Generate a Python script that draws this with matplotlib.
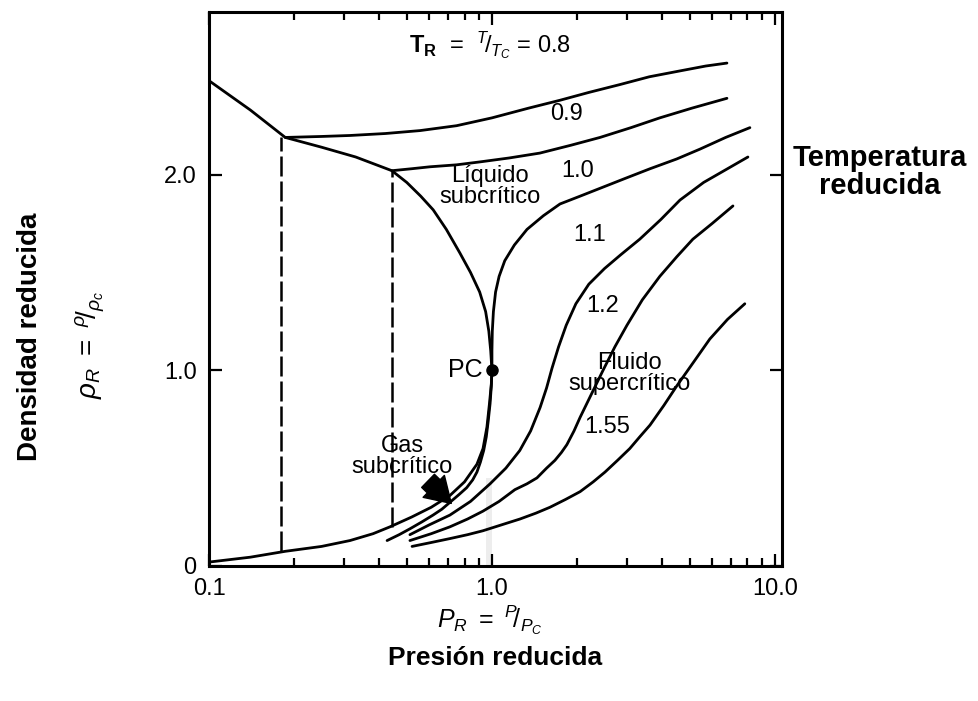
import matplotlib.pyplot as plt
from matplotlib.ticker import LogLocator, NullFormatter

plt.rcParams['font.family'] = ['Liberation Sans', 'DejaVu Sans']
plt.rcParams['mathtext.fontset'] = 'custom'
plt.rcParams['mathtext.rm'] = 'Liberation Sans'
plt.rcParams['mathtext.it'] = 'Liberation Sans:italic'
plt.rcParams['mathtext.bf'] = 'Liberation Sans:bold'

# saturation dome (reduced pressure, reduced density)
liq_p = [0.10, 0.14, 0.186, 0.25, 0.33, 0.443, 0.50, 0.56, 0.62, 0.69, 0.77,
         0.84, 0.905, 0.95, 0.975, 0.99, 1.0]
liq_rho = [2.48, 2.33, 2.19, 2.14, 2.09, 2.02, 1.96, 1.89, 1.82, 1.72, 1.60,
           1.50, 1.40, 1.30, 1.20, 1.10, 1.0]
gas_p = [0.10, 0.14, 0.186, 0.25, 0.315, 0.38, 0.436, 0.52, 0.61, 0.71, 0.80,
         0.885, 0.93, 0.96, 0.98, 0.995, 1.0]
gas_rho = [0.02, 0.045, 0.075, 0.10, 0.13, 0.165, 0.20, 0.25, 0.30, 0.36, 0.43,
           0.52, 0.60, 0.71, 0.83, 0.93, 1.0]

# subcritical isotherms, liquid side
t08_p = [0.186, 0.25, 0.315, 0.42, 0.557, 0.75, 1.0, 1.35, 1.74, 2.2, 2.83,
         3.6, 4.62, 5.7, 6.77]
t08_rho = [2.19, 2.195, 2.20, 2.21, 2.225, 2.25, 2.29, 2.34, 2.38, 2.42, 2.46,
           2.50, 2.53, 2.555, 2.57]
t09_p = [0.443, 0.52, 0.604, 0.75, 0.907, 1.15, 1.477, 1.9, 2.41, 3.1, 3.92,
         5.1, 6.77]
t09_rho = [2.02, 2.03, 2.04, 2.05, 2.065, 2.085, 2.11, 2.15, 2.19, 2.24, 2.29,
           2.34, 2.39]

# critical and supercritical isotherms
t10_p = [0.426, 0.47, 0.513, 0.565, 0.619, 0.665, 0.71, 0.765, 0.814, 0.855,
         0.885, 0.91, 0.935, 0.955, 0.97, 0.985, 0.995, 1.0, 1.0, 1.003, 1.012,
         1.03, 1.06, 1.11, 1.20, 1.33, 1.52, 1.74, 2.05, 2.41, 2.95, 3.62, 4.5,
         5.43, 6.7, 8.16]
t10_rho = [0.13, 0.16, 0.19, 0.225, 0.26, 0.29, 0.325, 0.365, 0.40, 0.44,
           0.48, 0.53, 0.59, 0.66, 0.74, 0.83, 0.92, 1.0, 1.10, 1.20, 1.30,
           1.40, 1.48, 1.56, 1.64, 1.72, 1.79, 1.85, 1.89, 1.93, 1.98, 2.03, 2.08,
           2.13, 2.19, 2.24]
t11_p = [0.513, 0.60, 0.71, 0.84, 0.985, 1.12, 1.254, 1.37, 1.48, 1.56, 1.63,
         1.72, 1.83, 1.98, 2.2, 2.5, 2.85, 3.33, 3.95, 4.62, 5.6, 6.8, 8.03]
t11_rho = [0.16, 0.21, 0.26, 0.33, 0.42, 0.50, 0.59, 0.69, 0.81, 0.91, 1.01,
           1.12, 1.23, 1.34, 1.44, 1.52, 1.59, 1.67, 1.77, 1.87, 1.96, 2.03, 2.09]
t12_p = [0.513, 0.61, 0.71, 0.82, 0.929, 1.06, 1.205, 1.33, 1.442, 1.56, 1.67,
         1.76, 1.84, 1.95, 2.05, 2.25, 2.47, 2.72, 3.0, 3.4, 3.92, 4.5, 5.13,
         6.0, 7.11]
t12_rho = [0.13, 0.165, 0.20, 0.24, 0.28, 0.33, 0.39, 0.42, 0.45, 0.50, 0.54,
           0.58, 0.62, 0.69, 0.76, 0.88, 1.0, 1.12, 1.23, 1.36, 1.48, 1.58, 1.67,
           1.75, 1.84]
t155_p = [0.522, 0.61, 0.71, 0.82, 0.929, 1.08, 1.256, 1.43, 1.603, 1.82, 2.05,
          2.28, 2.51, 2.78, 3.07, 3.33, 3.62, 4.05, 4.50, 5.15, 5.89, 6.8, 7.83]
t155_rho = [0.10, 0.12, 0.14, 0.16, 0.18, 0.21, 0.24, 0.27, 0.30, 0.34, 0.38,
            0.43, 0.48, 0.54, 0.60, 0.66, 0.72, 0.82, 0.92, 1.04, 1.16, 1.26, 1.34]

# tie lines (vapour / liquid at saturation)
tie_p = [0.18, 0.443]
tie_low = [0.075, 0.20]
tie_high = [2.19, 2.02]

pc_p, pc_rho = 1.0, 1.0

x_ticks = [0.1, 1.0, 10.0]
x_ticklabels = ['0.1', '1.0', '10.0']
y_ticks = [0, 1.0, 2.0]
y_ticklabels = ['0', '1.0', '2.0']

fig = plt.figure(figsize=(9.79, 7.01), dpi=100)
ax = fig.add_axes([0.2135, 0.1926, 0.5853, 0.790])

# faint shaded band left of the critical pressure
ax.fill_between([0.95, 1.0], 0, 0.45, color='0.93', lw=0, zorder=0)

lw = 2.0
ax.plot(liq_p, liq_rho, color='black', lw=lw, solid_joinstyle='round')
ax.plot(gas_p, gas_rho, color='black', lw=lw, solid_joinstyle='round')
for xs, ys in [(t08_p, t08_rho), (t09_p, t09_rho), (t10_p, t10_rho),
               (t11_p, t11_rho), (t12_p, t12_rho), (t155_p, t155_rho)]:
    ax.plot(xs, ys, color='black', lw=lw, solid_joinstyle='round', solid_capstyle='round')
for p, lo, hi in zip(tie_p, tie_low, tie_high):
    ax.plot([p, p], [lo, hi], color='black', lw=1.8, dashes=(8, 2))
ax.plot([pc_p], [pc_rho], 'o', color='black', markersize=8)

ax.set_xscale('log')
ax.set_xlim(0.1, 10.6)
ax.set_ylim(0.0, 2.83)
ax.set_xticks(x_ticks, x_ticklabels)
ax.xaxis.set_minor_locator(LogLocator(base=10, subs=range(2, 10)))
ax.xaxis.set_minor_formatter(NullFormatter())
ax.set_yticks(y_ticks, y_ticklabels)
ax.tick_params(which='both', direction='in', top=True, right=True, width=1.6,
               labelsize=17, pad=9)
ax.tick_params(which='major', length=9)
ax.tick_params(which='minor', length=6)
for s in ax.spines.values():
    s.set_linewidth(2.2)

txt = dict(fontsize=17, ha='center', va='center')
ax.text(0.984, 2.66, r'$\mathbf{T_R}$  =  $^{T}\!/_{T_C}$ = 0.8', **txt)
ax.text(1.84, 2.31, '0.9', **txt)
ax.text(2.01, 2.02, '1.0', **txt)
ax.text(2.22, 1.69, '1.1', **txt)
ax.text(2.47, 1.33, '1.2', **txt)
ax.text(2.55, 0.71, '1.55', **txt)
ax.text(0.984, 1.94, 'Líquido\nsubcrítico', linespacing=0.95, **txt)
ax.text(3.07, 0.985, 'Fluido\nsupercrítico', linespacing=0.95, **txt)
ax.text(0.481, 0.56, 'Gas\nsubcrítico', linespacing=0.95, **txt)
ax.text(0.93, 1.0, 'PC', fontsize=18, ha='right', va='center')
ax.annotate('', xy=(0.73, 0.31), xytext=(0.585, 0.445),
            arrowprops=dict(arrowstyle='simple,head_length=0.8,head_width=1.0,tail_width=0.6',
                            color='black', mutation_scale=22))

fig.text(0.899, 0.755, 'Temperatura\nreducida', fontsize=21, fontweight='bold',
         ha='center', va='center', linespacing=1.0)
fig.text(0.031, 0.519, 'Densidad reducida', fontsize=20, fontweight='bold',
         rotation=90, ha='center', va='center')
fig.text(0.092, 0.508, r'$\rho_R\ =\ ^{\rho}\!/_{\rho_c}$', fontsize=20,
         rotation=90, ha='center', va='center')
fig.text(0.5, 0.115, r'$P_R\ =\ ^{P}\!/_{P_C}$', fontsize=18,
         ha='center', va='center')
fig.text(0.506, 0.062, 'Presión reducida', fontsize=19, fontweight='bold',
         ha='center', va='center')

fig.savefig('out.png', dpi=100)
